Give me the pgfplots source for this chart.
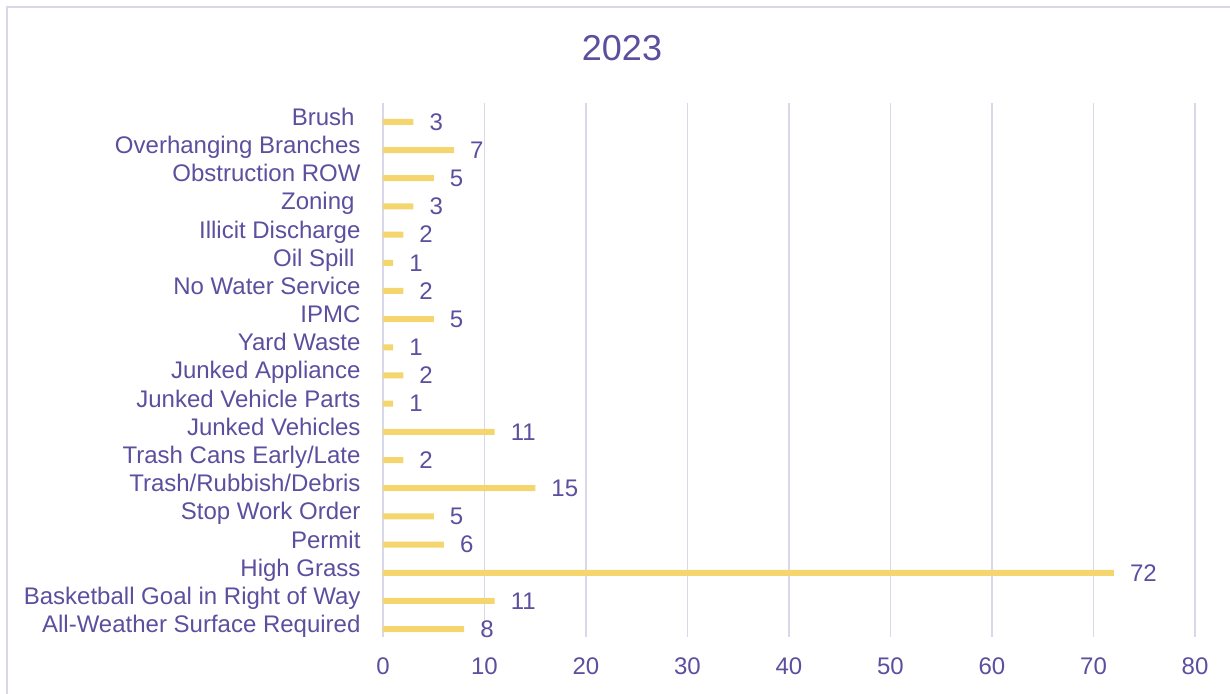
\documentclass[border=0pt]{standalone}
\usepackage{fontspec}
\setmainfont{Liberation Sans}
\usepackage{pgfplots}
\pgfplotsset{compat=1.18}

\definecolor{txt}{HTML}{5B4F9E}
\definecolor{gridc}{HTML}{D9D7EA}
\definecolor{barc}{HTML}{F4D56E}

\begin{document}
\begin{tikzpicture}
\path[use as bounding box] (0,0) rectangle (1230bp,694bp);
\draw[gridc, line width=2bp] (7bp,-10bp) -- (7bp,687bp) -- (1240bp,687bp);
\node[txt, font=\fontsize{36bp}{40bp}\selectfont] at (622bp,646bp) {2023};
\begin{axis}[
    at={(383bp,57bp)}, anchor=south west,
    scale only axis,
    width=812bp, height=534bp,
    xbar, bar width=6bp,
    y dir=reverse,
    xmin=0, xmax=80,
    ymin=-0.67, ymax=18.28,
    xtick={0,10,...,80},
    ytick={0,...,18},
    yticklabels={Brush\hspace*{6bp}, Overhanging Branches, Obstruction ROW, Zoning\hspace*{6bp},
        Illicit Discharge, Oil Spill\hspace*{6bp}, No Water Service, IPMC, Yard Waste,
        Junked Appliance, Junked Vehicle Parts, Junked Vehicles,
        Trash Cans Early/Late, Trash/Rubbish/Debris, Stop Work Order, Permit,
        High Grass, Basketball Goal in Right of Way, All-Weather Surface Required},
    axis line style={draw=none},
    major tick length=0pt,
    xmajorgrids, grid style={gridc, line width=1.5bp},
    tick label style={txt, font=\fontsize{24bp}{27bp}\selectfont},
    /pgf/number format/assume math mode=true,
    yticklabel style={text height=17bp, text depth=5bp, yshift=2.5bp, xshift=-19bp},
    xticklabel style={yshift=-17bp},
    nodes near coords,
    every node near coord/.append style={txt, anchor=west, inner sep=0pt,
        xshift=16bp, font=\fontsize{24bp}{27bp}\selectfont},
]
\addplot[draw=none, fill=barc] coordinates {
    (3,0) (7,1) (5,2) (3,3) (2,4) (1,5) (2,6) (5,7) (1,8) (2,9)
    (1,10) (11,11) (2,12) (15,13) (5,14) (6,15) (72,16) (11,17) (8,18)
};
\end{axis}
\end{tikzpicture}
\end{document}
